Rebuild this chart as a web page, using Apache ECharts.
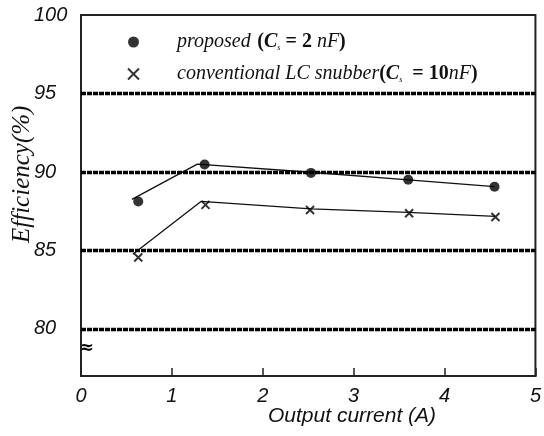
<!DOCTYPE html>
<html>
<head>
<meta charset="utf-8">
<script src="https://cdn.jsdelivr.net/npm/echarts@6/dist/echarts.min.js"></script>
<style>
  html, body { margin: 0; padding: 0; background: #fff; }
  #chart { width: 544px; height: 436px; }
</style>
</head>
<body>
<div id="chart"></div>
<script>
// valeurs
const nomProposed = 'proposed';
const nomConventional = 'conventional';

// points mesurés (marqueurs)
const xProposed = [0.63, 1.36, 2.53, 3.60, 4.55];
const yProposed = [88.12, 90.47, 89.94, 89.50, 89.06];
const xConventional = [0.63, 1.37, 2.52, 3.61, 4.56];
const yConventional = [84.55, 87.90, 87.58, 87.37, 87.13];

// courbes de tendance (traits)
const xLigneProposed = [0.56, 1.28, 2.53, 3.60, 4.55];
const yLigneProposed = [88.25, 90.50, 89.98, 89.50, 89.06];
const xLigneConventional = [0.57, 1.32, 2.53, 3.60, 4.56];
const yLigneConventional = [84.75, 88.12, 87.65, 87.42, 87.17];

// axes
const xTicks = [0, 1, 2, 3, 4, 5];
const yLabels = [80, 85, 90, 95, 100];
const gridLevels = [80, 85, 90, 95];

const zip = (xs, ys) => xs.map((x, i) => [x, ys[i]]);

const croix = 'path://M0,0 L10,10 M10,0 L0,10';

var myChart = echarts.init(document.getElementById('chart'), null, { renderer: 'canvas' });

myChart.setOption({
    animation: false,
    backgroundColor: '#fff',
    grid: {
        left: 81, right: 3, top: 15, bottom: 60,
        show: true,
        borderColor: '#222',
        borderWidth: 2
    },
    xAxis: {
        type: 'value',
        min: 0, max: 5, interval: 1,
        axisLine: { show: true, lineStyle: { color: '#222', width: 2 } },
        axisTick: { show: true, inside: true, length: 8, lineStyle: { color: '#222', width: 1.5 } },
        splitLine: { show: false },
        axisLabel: {
            margin: 10,
            color: '#111',
            fontFamily: 'Liberation Sans',
            fontStyle: 'italic',
            fontSize: 20,
            formatter: v => xTicks.includes(v) ? String(v) : ''
        }
    },
    yAxis: {
        type: 'value',
        min: 77, max: 100, interval: 1,
        axisLine: { show: true, lineStyle: { color: '#222', width: 2 } },
        axisTick: { show: false },
        splitLine: { show: false },
        axisLabel: {
            margin: 47,
            align: 'left',
            color: '#111',
            fontFamily: 'Liberation Sans',
            fontStyle: 'italic',
            fontSize: 20,
            formatter: v => yLabels.includes(v) ? String(v) : ''
        }
    },
    legend: {
        orient: 'vertical',
        left: 122,
        top: 27,
        itemGap: 12,
        itemWidth: 11,
        itemHeight: 11,
        data: [nomProposed, nomConventional],
        formatter: function (name) {
            if (name === nomProposed) {
                return '{i|proposed}  {b|(}{c|C}{s|s}{b| = 2 }{n|nF}{b|)}';
            }
            return '{i|conventional LC snubber}{b|(}{c|C}{s|s}{b|  = 10}{n|nF}{b|)}';
        },
        textStyle: {
            padding: [0, 0, 0, 33],
            rich: {
                i: { fontFamily: 'Liberation Serif', fontStyle: 'italic', fontSize: 20, color: '#111' },
                b: { fontFamily: 'Liberation Serif', fontWeight: 'bold', fontSize: 20, color: '#111' },
                c: { fontFamily: 'Liberation Serif', fontStyle: 'italic', fontWeight: 'bold', fontSize: 20, color: '#111' },
                n: { fontFamily: 'Liberation Serif', fontStyle: 'italic', fontSize: 20, color: '#111' },
                s: { fontFamily: 'Liberation Serif', fontStyle: 'italic', fontSize: 8, color: '#111', verticalAlign: 'bottom', padding: [7, 0, 0, 0] }
            }
        }
    },
    graphic: [
        {
            type: 'text',
            left: 268, top: 406,
            style: {
                text: 'Output current (A)',
                fontFamily: 'Liberation Sans',
                fontStyle: 'italic',
                fontSize: 21,
                fill: '#111'
            }
        },
        {
            type: 'text',
            x: 10, y: 243,
            rotation: Math.PI / 2,
            style: {
                text: 'Efficiency(%)',
                fontFamily: 'Liberation Serif',
                fontStyle: 'italic',
                fontSize: 25,
                fill: '#111'
            }
        },
        {
            type: 'text',
            left: 79, top: 339,
            style: {
                text: '≈',
                fontFamily: 'DejaVu Sans',
                fontWeight: 'bold',
                fontSize: 18,
                fill: '#000'
            }
        }
    ],
    series: [
        {
            name: 'ligneProposed',
            type: 'line',
            data: zip(xLigneProposed, yLigneProposed),
            symbol: 'none',
            lineStyle: { color: '#111', width: 1.3 },
            z: 3,
            markLine: {
                silent: true,
                symbol: 'none',
                label: { show: false },
                lineStyle: { color: '#000', width: 3.4, type: [5, 1] },
                data: gridLevels.map(v => ({ yAxis: v }))
            }
        },
        {
            name: 'ligneConventional',
            type: 'line',
            data: zip(xLigneConventional, yLigneConventional),
            symbol: 'none',
            lineStyle: { color: '#111', width: 1.3 },
            z: 3
        },
        {
            name: nomProposed,
            type: 'scatter',
            data: zip(xProposed, yProposed),
            symbol: 'circle',
            symbolSize: 10,
            itemStyle: { color: '#000' },
            z: 4
        },
        {
            name: nomConventional,
            type: 'scatter',
            data: zip(xConventional, yConventional),
            symbol: croix,
            symbolSize: 8,
            itemStyle: { color: 'transparent', borderColor: '#000', borderWidth: 2 },
            z: 4
        }
    ]
});
</script>
</body>
</html>
